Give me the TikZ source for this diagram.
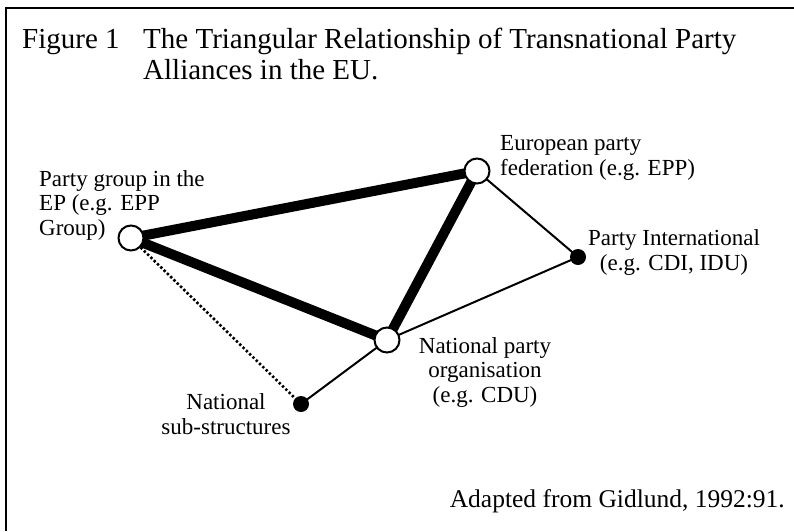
\documentclass[tikz,border=0pt]{standalone}
\usepackage{fontspec}
\setmainfont{Liberation Serif}
\usetikzlibrary{backgrounds}
\begin{document}
\begin{tikzpicture}[x=1pt,y=-1pt,
  opennode/.style={circle,draw=black,fill=white,line width=2pt,minimum size=25pt,inner sep=0pt},
  dotnode/.style={circle,fill=black,minimum size=16pt,inner sep=0pt},
  strong/.style={line width=10pt},
  weak/.style={line width=2pt},
  dottedlink/.style={line width=2.6pt,dash pattern=on 2.4pt off 2.2pt},
  lbl/.style={inner sep=0pt,font=\fontsize{23}{24.5}\selectfont},
  ttl/.style={inner sep=0pt,anchor=base west,font=\fontsize{29}{30}\selectfont}]
\useasboundingbox (0,0) rectangle (794,531);
\draw[line width=2pt] (794,8) -- (6,8) -- (6,531);
% title
\node[ttl] (fig) at (22,48) {Figure 1};
\node[ttl] (t1) at (143,48) {The Triangular Relationship of Transnational Party};
\node[ttl] (t2) at (143,79) {Alliances in the EU.};
% nodes
\node[opennode] (pg) at (131,238) {};
\node[opennode] (ep) at (477,171) {};
\node[opennode] (np) at (387,340) {};
\node[dotnode] (pi) at (578,257) {};
\node[dotnode] (ns) at (301,404) {};
% labels (anchored at the baseline of their last line)
\node[lbl,anchor=base west,align=left] (pgl) at (39,235) {Party group in the\\EP (e.g. EPP\\Group)};
\node[lbl,anchor=base west,align=left] (epl) at (500,175) {European party\\federation (e.g. EPP)};
\node[lbl,anchor=base,align=center] (pil) at (674,270) {Party International\\(e.g. CDI, IDU)};
\node[lbl,anchor=base,align=center] (npl) at (485,402) {National party\\organisation\\(e.g. CDU)};
\node[lbl,anchor=base,align=center] (nsl) at (226,434) {National\\sub-structures};
\node[inner sep=0pt,anchor=base east,font=\fontsize{25.5}{27}\selectfont] (src) at (785,507) {Adapted from Gidlund, 1992:91.};
% edges
\begin{pgfonlayer}{background}
\draw[strong] (pg.center) -- (ep.center);
\draw[strong] (pg.center) -- (np.center);
\draw[strong] (ep.center) -- (np.center);
\draw[weak] (ep.center) -- (pi.center);
\draw[weak] (np.center) -- (pi.center);
\draw[weak] (np.center) -- (ns.center);
\draw[dottedlink] (pg) -- (ns);
\end{pgfonlayer}
\end{tikzpicture}
\end{document}
